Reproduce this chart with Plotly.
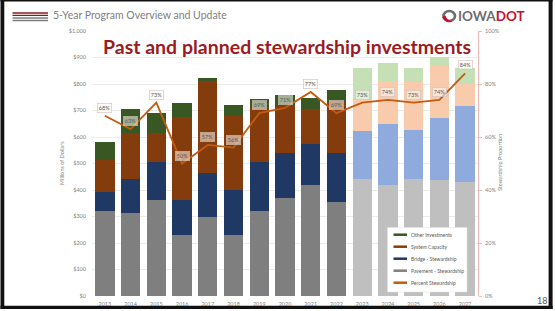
import plotly.graph_objects as go

# ---------------- data ----------------
years = [2013, 2014, 2015, 2016, 2017, 2018, 2019, 2020, 2021, 2022,
         2023, 2024, 2025, 2026, 2027]
pavement = [320, 315, 364, 232, 298, 230, 320, 370, 418, 355, 440, 418, 440, 436, 429]
bridge = [73, 125, 140, 131, 168, 169, 187, 168, 157, 183, 183, 230, 188, 234, 288]
capacity = [122, 177, 110, 311, 346, 282, 207, 182, 131, 197, 116, 163, 178, 199, 82]
other = [67, 88, 77, 53, 10, 38, 28, 37, 40, 43, 122, 67, 56, 32, 60]
percent = [68, 63, 73, 50, 57, 56, 69, 71, 77, 69, 73, 74, 73, 74, 84]
last_actual_year = 2022

series_names = ["Pavement - Stewardship", "Bridge - Stewardship", "System Capacity", "Other Investments"]
legend_names = ["Other Investments", "System Capacity", "Bridge - Stewardship",
                "Pavement - Stewardship", "Percent Stewardship"]

# ---------------- styles ----------------
past_colors = {"Pavement - Stewardship": "#7f7f7f", "Bridge - Stewardship": "#1f3864",
               "System Capacity": "#843c0c", "Other Investments": "#385723"}
plan_colors = {"Pavement - Stewardship": "#bfbfbf", "Bridge - Stewardship": "#8faadc",
               "System Capacity": "#f8cbad", "Other Investments": "#c5e0b4"}
line_color = "#c55a11"
FONT = "Lato"
W, H = 555, 311
L, R, T, B = 92, 77, 31, 15
PW, PH = W - L - R, H - T - B


def px(x):
    return (x - L) / PW


def py(y):
    return (H - B - y) / PH


fig = go.Figure()
values = {"Pavement - Stewardship": pavement, "Bridge - Stewardship": bridge,
          "System Capacity": capacity, "Other Investments": other}
for name in series_names:
    cols = [past_colors[name] if yr <= last_actual_year else plan_colors[name] for yr in years]
    fig.add_trace(go.Bar(x=years, y=values[name], name=name, marker_color=cols,
                         marker_line_width=0, width=0.75, showlegend=False))

fig.add_trace(go.Scatter(x=years, y=[p / 100 for p in percent], yaxis="y2", mode="lines",
                         line=dict(color=line_color, width=1.8), name="Percent Stewardship",
                         showlegend=False, cliponaxis=False))

annotations = []
for yr, p in zip(years, percent):
    annotations.append(dict(x=yr, y=p / 100, xref="x", yref="y2", text=f"{p}%", showarrow=False,
                            yshift=8, font=dict(family=FONT, size=5.5, color="#595959"),
                            bgcolor="rgba(255,250,245,0.55)", bordercolor="rgba(200,190,180,0.9)",
                            borderwidth=0.6, borderpad=1.2))

# chart title
annotations.append(dict(x=px(286.5), y=py(46.5), xref="paper", yref="paper",
                        text="<b>Past and planned stewardship investments</b>", showarrow=False,
                        xanchor="center", yanchor="middle",
                        font=dict(family=FONT, size=19.5, color="#9b1b1f")))
# axis titles
annotations.append(dict(x=px(62), y=py(163), xref="paper", yref="paper", text="Millions of Dollars",
                        textangle=-90, showarrow=False, xanchor="center", yanchor="middle",
                        font=dict(family=FONT, size=5.5, color="#7f7f7f")))
annotations.append(dict(x=px(500), y=py(163), xref="paper", yref="paper", text="Stewardship Proportion",
                        textangle=-90, showarrow=False, xanchor="center", yanchor="middle",
                        font=dict(family=FONT, size=5.5, color="#7f7f7f")))
# header
annotations.append(dict(x=px(51), y=py(15.5), xref="paper", yref="paper",
                        text="5-Year Program Overview and Update", showarrow=False,
                        xanchor="left", yanchor="middle",
                        font=dict(family=FONT, size=10.5, color="#808080")))
annotations.append(dict(x=px(456), y=py(16), xref="paper", yref="paper",
                        text="<b><span style='color:#6d6e71'>IOWA</span><span style='color:#c8102e'>DOT</span></b>",
                        showarrow=False, xanchor="left", yanchor="middle",
                        font=dict(family=FONT, size=13.5, color="#6d6e71")))
annotations.append(dict(x=px(541.5), y=py(300), xref="paper", yref="paper", text="18",
                        showarrow=False, xanchor="center", yanchor="middle",
                        font=dict(family=FONT, size=9, color="#595959")))

shapes = []
# legend box
shapes.append(dict(type="rect", xref="paper", yref="paper", x0=px(387.5), x1=px(467), y0=py(292),
                   y1=py(227.5), fillcolor="white", line=dict(color="rgba(225,225,225,1)", width=0.5),
                   layer="above"))
leg_cols = [past_colors["Other Investments"], past_colors["System Capacity"],
            past_colors["Bridge - Stewardship"], past_colors["Pavement - Stewardship"], line_color]
for i, (nm, c) in enumerate(zip(legend_names, leg_cols)):
    yy = 234.7 + 12 * i
    shapes.append(dict(type="line", xref="paper", yref="paper", x0=px(393.5), x1=px(407),
                       y0=py(yy), y1=py(yy), line=dict(color=c, width=2.5), layer="above"))
    annotations.append(dict(x=px(408.5), y=py(yy), xref="paper", yref="paper", text=nm,
                            showarrow=False, xanchor="left", yanchor="middle",
                            font=dict(family=FONT, size=5, color="#595959")))

# header icon lines
for yy, c in [(13, "#8b1a1e"), (15.4, "#8b1a1e"), (18, "#7f7f7f"), (20.5, "#7f7f7f")]:
    shapes.append(dict(type="line", xref="paper", yref="paper", x0=px(12.5), x1=px(48),
                       y0=py(yy), y1=py(yy), line=dict(color=c, width=1.4)))
# logo icon
shapes.append(dict(type="circle", xref="paper", yref="paper", x0=px(443.5), x1=px(455),
                   y0=py(21), y1=py(11), line=dict(color="#6d6e71", width=2.6)))
shapes.append(dict(type="path", xref="paper", yref="paper",
                   path=f"M {px(442.5)} {py(17)} Q {px(445)} {py(23)} {px(452)} {py(21.5)} "
                        f"Q {px(446)} {py(20.5)} {px(445.5)} {py(16)} Z",
                   fillcolor="#c8102e", line=dict(color="#c8102e", width=0.8)))

# slide frame
for x0, x1, y0, y1 in [(0.5, 4.3, 0, 309), (548.6, 552.6, 0, 309), (0.5, 552.6, 305.8, 309),
                       (0.5, 552.6, 0, 1.4)]:
    shapes.append(dict(type="rect", xref="paper", yref="paper", x0=px(x0), x1=px(x1),
                       y0=py(y1), y1=py(y0), fillcolor="#111111", line=dict(width=0),
                       layer="below"))

fig.update_layout(
    template="none",
    width=W, height=H, margin=dict(l=L, r=R, t=T, b=B, pad=0), autosize=False,
    paper_bgcolor="white", plot_bgcolor="white", barmode="stack",
    font=dict(family=FONT, size=5.5, color="#7f7f7f"),
    xaxis=dict(range=[2012.5, 2027.5], tickvals=years, ticktext=[str(y) for y in years],
               showgrid=False, zeroline=False, showline=False, ticks="", automargin=False,
               ticklabelstandoff=3, tickfont=dict(size=5.5, color="#7f7f7f")),
    yaxis=dict(range=[0, 1000], dtick=100, tickprefix="$", tickformat=",d", automargin=False,
               showgrid=True, gridcolor="#ebebeb", gridwidth=1, zeroline=False, ticks="",
               ticklabelstandoff=5, tickfont=dict(size=5.5, color="#7f7f7f")),
    yaxis2=dict(range=[0, 1], dtick=0.2, tickformat=".0%", overlaying="y", side="right",
                automargin=False,
                showgrid=False, zeroline=False, showline=True, linecolor="#f2b8b8", linewidth=1,
                ticks="outside", ticklen=3, tickcolor="#f2b8b8", ticklabelstandoff=2,
                tickfont=dict(size=5.5, color="#7f7f7f")),
    annotations=annotations, shapes=shapes,
)

fig.write_html("out.html", config={"displayModeBar": False},
               post_script="document.body.style.margin='0px';document.body.style.overflow='hidden';")
